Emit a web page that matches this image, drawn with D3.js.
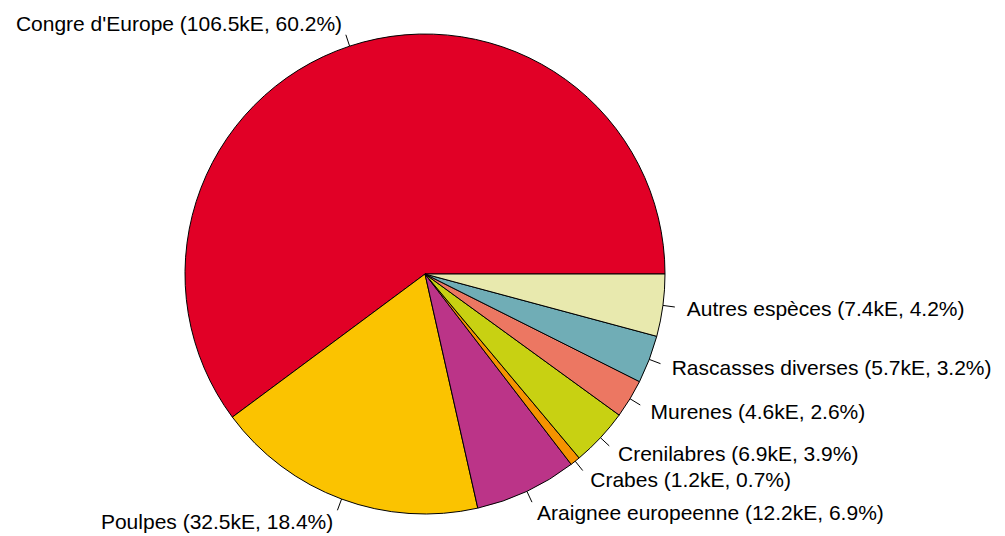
<!DOCTYPE html>
<html>
<head>
<meta charset="utf-8">
<script src="https://cdn.jsdelivr.net/npm/d3@7"></script>
<style>
  body { margin: 0; background: #fff; }
  svg { display: block; }
  text { font-family: "Liberation Sans", Arial, sans-serif; font-size: 21px; fill: #000; }
</style>
</head>
<body>
<div id="chart"></div>
<script>

const width = 1005 ;
const height = 536 ;

// species, value in kE, percent, colour
const species = [ "Congre d'Europe", "Poulpes", "Araignee europeenne", "Crabes",
                  "Crenilabres", "Murenes", "Rascasses diverses", "Autres espèces" ] ;
const valuesKE = [ 106.5, 32.5, 12.2, 1.2, 6.9, 4.6, 5.7, 7.4 ] ;
const percents = [ 60.2, 18.4, 6.9, 0.7, 3.9, 2.6, 3.2, 4.2 ] ;
const colors = [ "#E10026", "#FBC300", "#BB3488", "#F59300",
                 "#C8D112", "#EC7762", "#70ADB6", "#E8E9AE" ] ;

const cx = 425 ;
const cy = 274 ;
const radius = 240 ;

const svg = d3.select( "#chart" ).append( "svg" )
	.attr( "width", width )
	.attr( "height", height ) ;

const g = svg.append( "g" ).attr( "transform", "translate(" + cx + "," + cy + ")" ) ;

var sliceData = species.map( function(s, i) {
	return { name: s, value: valuesKE[i], pct: percents[i], color: colors[i] } ;
} ) ;

// R style: start at 3 o'clock and go counter-clockwise
const pie = d3.pie()
	.sort( null )
	.value( function(d) { return d.value ; } )
	.startAngle( Math.PI / 2 )
	.endAngle( Math.PI / 2 - 2 * Math.PI ) ;

const arcs = pie( sliceData ) ;

const arc = d3.arc().innerRadius( 0 ).outerRadius( radius ) ;

g.selectAll( "path.slice" )
	.data( arcs )
	.enter().append( "path" )
		.attr( "class", "slice" )
		.attr( "d", arc )
		.attr( "fill", function(d) { return d.data.color ; } )
		.attr( "stroke", "#000" )
		.attr( "stroke-width", 1 )
		.attr( "stroke-linejoin", "round" ) ;

function mid( d ) { return ( d.startAngle + d.endAngle ) / 2 ; }

g.selectAll( "line.tick" )
	.data( arcs )
	.enter().append( "line" )
		.attr( "class", "tick" )
		.attr( "x1", function(d) { return Math.sin( mid(d) ) * radius ; } )
		.attr( "y1", function(d) { return -Math.cos( mid(d) ) * radius ; } )
		.attr( "x2", function(d) { return Math.sin( mid(d) ) * radius * 1.05 ; } )
		.attr( "y2", function(d) { return -Math.cos( mid(d) ) * radius * 1.05 ; } )
		.attr( "stroke", "#000" )
		.attr( "stroke-width", 1 ) ;

g.selectAll( "text.label" )
	.data( arcs )
	.enter().append( "text" )
		.attr( "class", "label" )
		.attr( "x", function(d) { return Math.sin( mid(d) ) * radius * 1.1 ; } )
		.attr( "y", function(d) { return -Math.cos( mid(d) ) * radius * 1.1 ; } )
		.attr( "dy", "0.35em" )
		.attr( "text-anchor", function(d) { return Math.sin( mid(d) ) < 0 ? "end" : "start" ; } )
		.text( function(d) { return d.data.name + " (" + d.data.value.toFixed(1) + "kE, " + d.data.pct.toFixed(1) + "%)" ; } ) ;

</script>
</body>
</html>
